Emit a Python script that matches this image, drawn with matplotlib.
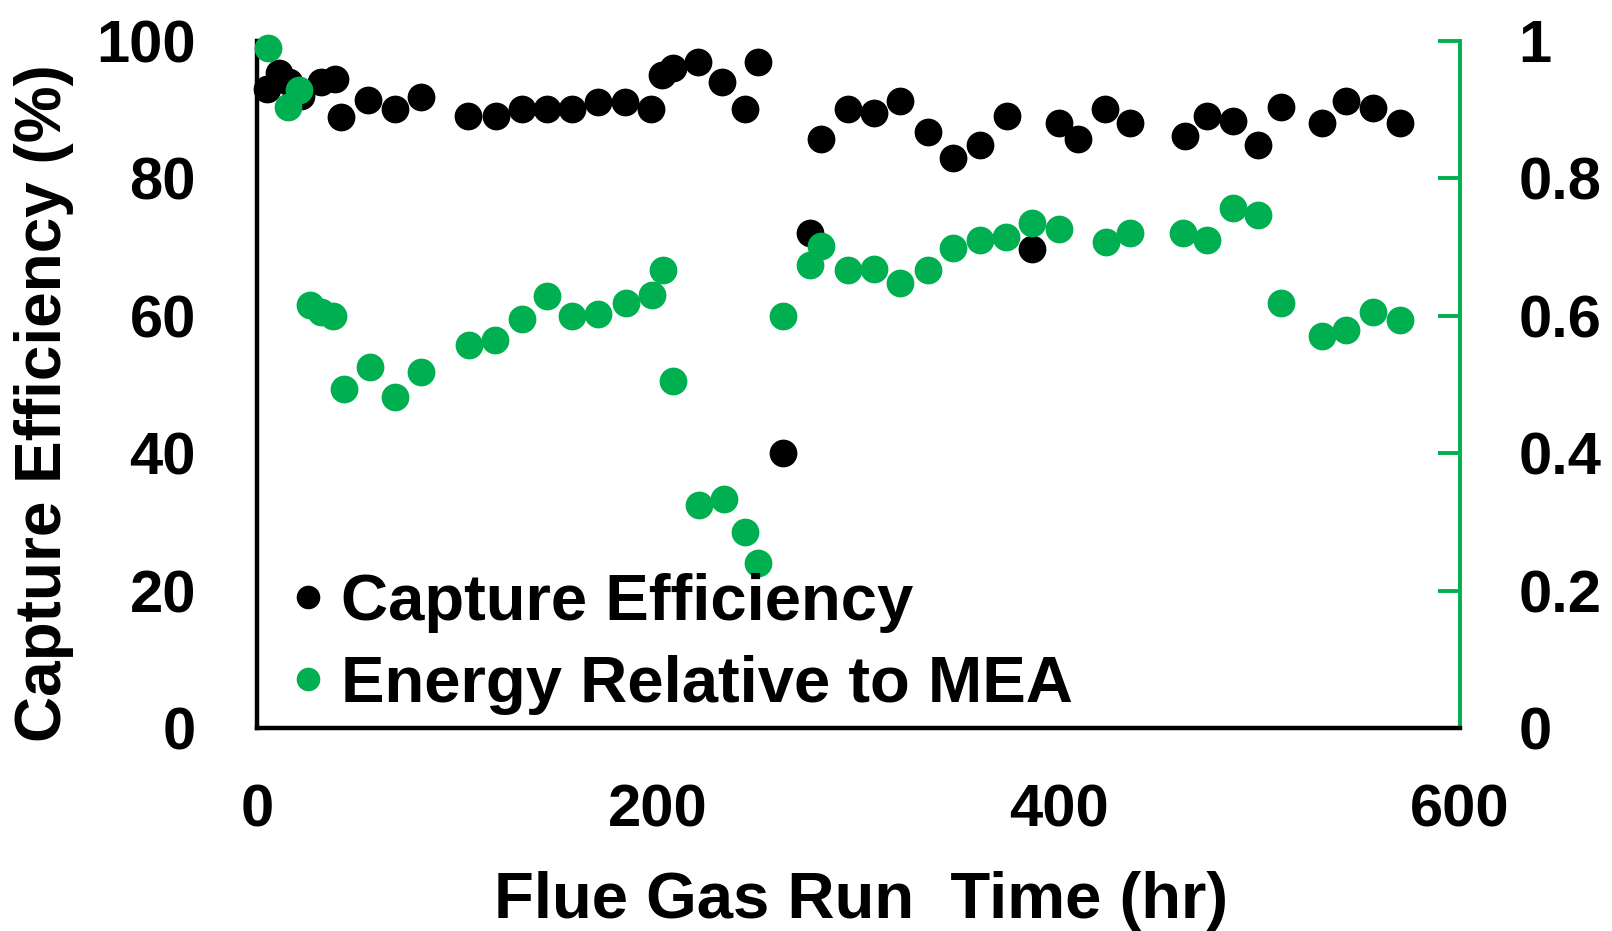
import matplotlib
matplotlib.use("Agg")
import matplotlib.pyplot as plt

plt.rcParams['font.family'] = ['Liberation Sans', 'DejaVu Sans']
plt.rcParams['font.weight'] = 'bold'

GREEN = '#00B050'

# Capture efficiency (%) vs flue gas run time (hr)
t_capture = [5, 11, 16, 22, 32, 39, 42, 55.5, 69, 82, 105, 119, 132, 144.5, 157,
             170, 183.5, 196.5, 202, 207.5, 220, 232, 243.5, 250, 262.5, 276,
             281.5, 295, 307.5, 320.5, 334.5, 347, 360.5, 374, 386.5, 400, 409.5,
             423, 435.5, 463, 474, 487, 499.5, 510.5, 531, 543, 556.5, 570]
capture = [93, 95.3, 94, 92, 94, 94.4, 89, 91.4, 90.1, 91.8, 89.1, 89.1, 90.1,
           90.1, 90.1, 91.1, 91.1, 90.1, 95.1, 96, 97, 94.1, 90.1, 97, 40, 72.1,
           85.8, 90.1, 89.5, 91.2, 86.8, 82.9, 84.9, 89.1, 69.7, 88.1, 85.8, 90.1,
           88.1, 86.2, 89.1, 88.3, 84.9, 90.4, 88.1, 91.2, 90.2, 88.1]

# Regeneration energy relative to MEA vs flue gas run time (hr)
t_energy = [5.5, 15.5, 21, 26.5, 32, 38, 43.5, 56.5, 69, 82, 105.5, 118.5, 132,
            144.5, 157, 170, 184, 197, 202.5, 207.5, 220.5, 233, 243.5, 250,
            262.5, 276, 281.5, 295, 307.5, 320.5, 334.5, 347, 360.5, 373.5,
            386.5, 400, 423.5, 435.5, 462, 474, 487, 499.5, 510.5, 531, 543,
            556.5, 570]
energy = [0.99, 0.904, 0.928, 0.616, 0.606, 0.600, 0.494, 0.525, 0.482, 0.518,
          0.558, 0.565, 0.596, 0.629, 0.600, 0.603, 0.619, 0.630, 0.666, 0.505,
          0.325, 0.334, 0.286, 0.240, 0.600, 0.674, 0.701, 0.666, 0.668, 0.648,
          0.666, 0.698, 0.711, 0.714, 0.735, 0.727, 0.708, 0.721, 0.721, 0.710,
          0.757, 0.747, 0.619, 0.571, 0.580, 0.606, 0.594]

left_ticks = [0, 20, 40, 60, 80, 100]
right_ticks = [0, 0.2, 0.4, 0.6, 0.8, 1.0]
right_labels = ['0', '0.2', '0.4', '0.6', '0.8', '1']
x_ticks = [0, 200, 400, 600]

W, H = 1612, 931
fig = plt.figure(figsize=(W / 100, H / 100), dpi=100)
ax = fig.add_axes([257 / W, 1 - 728 / H, 1203 / W, 687 / H])
ax2 = ax.twinx()

MS = 20
l1, = ax.plot(t_capture, capture, 'o', color='black', ms=MS, mew=0, clip_on=False,
              label='Capture Efficiency')
l2, = ax2.plot(t_energy, energy, 'o', color=GREEN, ms=MS, mew=0, clip_on=False,
               label='Energy Relative to MEA')

ax.set_xlim(0, 600)
ax.set_ylim(0, 100)
ax2.set_ylim(0, 1)

TICK_FS = 43
ax.set_xticks(x_ticks)
ax.set_yticks(left_ticks)
ax.tick_params(axis='both', length=0, labelsize=TICK_FS)
ax.tick_params(axis='y', pad=44)
ax.tick_params(axis='x', pad=40)
ax2.set_yticks(right_ticks)
ax2.set_yticklabels(right_labels)
ax2.tick_params(axis='y', direction='in', length=16, width=2.8, color=GREEN,
                labelsize=TICK_FS, pad=42)
# the zero tick sits on the black x axis line
ax2.yaxis.get_major_ticks()[0].tick2line.set_visible(False)
for a in (ax, ax2):
    for lab in a.get_xticklabels() + a.get_yticklabels():
        lab.set_fontweight('bold')

for a in (ax, ax2):
    a.spines['top'].set_visible(False)
ax.spines['right'].set_visible(False)
ax.spines['left'].set_linewidth(3.2)
ax.spines['bottom'].set_visible(False)
ax2.spines['left'].set_visible(False)
ax2.spines['bottom'].set_color('black')
ax2.spines['bottom'].set_linewidth(3.2)
ax2.spines['bottom'].set_zorder(3)
ax2.spines['right'].set_color(GREEN)
ax2.spines['right'].set_linewidth(2.8)

LABEL_FS = 47
fig.text(861 / W, 1 - 918 / H, 'Flue Gas Run  Time (hr)', ha='center', va='baseline',
         fontsize=LABEL_FS, fontweight='bold')
fig.text(44 / W, 1 - 403 / H, 'Capture Efficiency (%)', ha='center', va='center',
         rotation=90, fontsize=LABEL_FS - 1, fontweight='bold')

leg = ax2.legend(handles=[l1, l2], loc='upper left',
                 bbox_to_anchor=(292 / W, 1 - 573 / H), bbox_transform=fig.transFigure,
                 frameon=False, fontsize=LABEL_FS, markerscale=0.85,
                 handlelength=0.5, handletextpad=0.25, labelspacing=0.34,
                 borderpad=0, borderaxespad=0)
for t in leg.get_texts():
    t.set_fontweight('bold')

fig.savefig('out.png', dpi=100)
